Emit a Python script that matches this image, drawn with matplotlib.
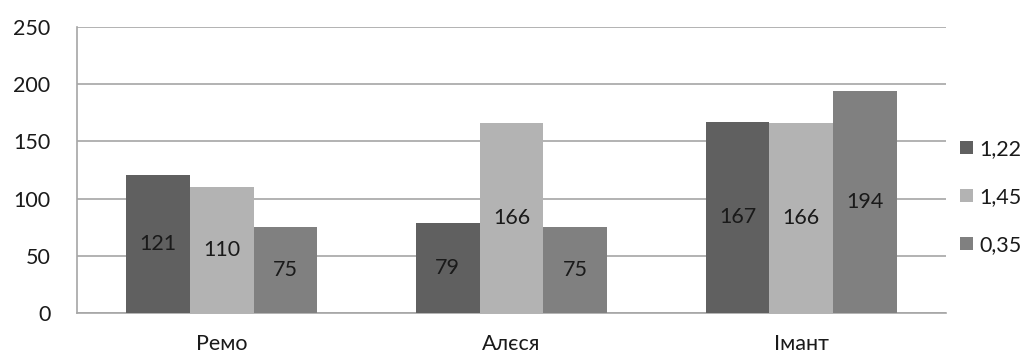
import numpy as np
import matplotlib.pyplot as plt

names = ["Ремо", "Алєся", "Імант"]
series = ["1,22", "1,45", "0,35"]
v_122 = [121, 79, 167]
v_145 = [110, 166, 166]
v_035 = [75, 75, 194]
colors = ["#606060", "#b3b3b3", "#808080"]

plt.rcParams['font.family'] = ['Lato', 'DejaVu Sans']
fs = 15.5

fig = plt.figure(figsize=(10.3, 3.58), dpi=100)
ax = fig.add_axes([77 / 1030, 1 - 313 / 358, (946 - 77) / 1030, (313 - 27) / 358])

x = np.arange(len(names))
w = 0.22
for i, (vals, lab, c) in enumerate(zip([v_122, v_145, v_035], series, colors)):
    bars = ax.bar(x + (i - 1) * w, vals, w, color=c, label=lab, zorder=3)
    ax.bar_label(bars, labels=[str(v) for v in vals], label_type="center",
                 fontsize=fs, color="#1a1a1a")

ax.set_xlim(-0.5, 2.5)
ax.set_ylim(0, 250)
ax.set_yticks(range(0, 251, 50))
ax.set_xticks(x)
ax.set_xticklabels(names)
ax.yaxis.grid(True, color="#a6a6a6", linewidth=1.2, zorder=0)
ax.tick_params(axis="y", length=0, pad=19, labelsize=fs, labelcolor="#1a1a1a")
ax.tick_params(axis="x", length=0, pad=15, labelsize=fs, labelcolor="#1a1a1a")
for s in ["top", "right"]:
    ax.spines[s].set_visible(False)
for s in ["left", "bottom"]:
    ax.spines[s].set_color("#a6a6a6")
    ax.spines[s].set_linewidth(1.2)

fig.legend(loc="center left", bbox_to_anchor=(960 / 1030, 1 - 197 / 358),
           frameon=False, borderaxespad=0, borderpad=0,
           fontsize=fs, handlelength=0.6, handleheight=0.6, handletextpad=0.3,
           labelspacing=1.3, labelcolor="#1a1a1a")

fig.savefig("out.png", dpi=100)
